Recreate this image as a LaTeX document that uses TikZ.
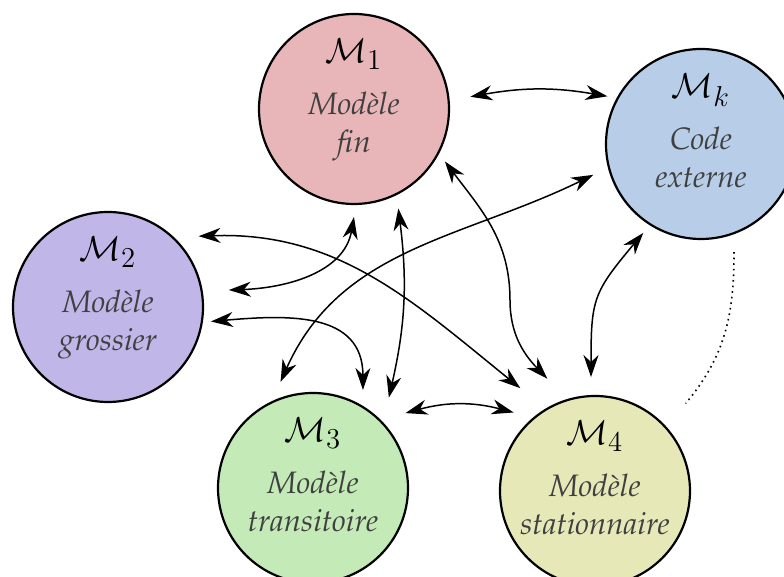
\documentclass[tikz,border=0pt]{standalone}
\usepackage[T1]{fontenc}
\renewcommand{\rmdefault}{ppl}
\usetikzlibrary{arrows.meta,calc}

\definecolor{rosefin}{HTML}{E8B5B8}
\definecolor{bleucode}{HTML}{B8CEE8}
\definecolor{mauve}{HTML}{C0B6E8}
\definecolor{vert}{HTML}{C4EAB7}
\definecolor{olive}{HTML}{E6E8B8}
\definecolor{gristexte}{HTML}{404040}

\begin{document}
\begin{tikzpicture}[x=0.5pt,y=0.5pt,
  >={Stealth[length=11pt,width=7.5pt,inset=3.5pt]},
  modele/.style={circle,draw=black,line width=1.1pt,minimum size=95pt,inner sep=0pt},
  titre/.style={anchor=base,font=\fontsize{19}{22}\selectfont},
  texte/.style={anchor=base,text=gristexte,font=\fontsize{15.5}{19}\selectfont\itshape},
  lien/.style={<->,line width=0.75pt}]
\useasboundingbox (0,0) rectangle (784,577);

% Models
\node[modele,fill=rosefin] (m1) at (354,468) {};
\node[modele,fill=bleucode] (mk) at (701,433) {};
\node[modele,fill=mauve] (m2) at (108,270) {};
\node[modele,fill=vert] (m3) at (313,89) {};
\node[modele,fill=olive] (m4) at (595,86) {};

% Names of the models
\node[titre] (m1t) at ($(m1)+(0,46)$) {$\mathcal{M}_1$};
\node[texte] (m1a) at ($(m1)+(0,-6)$) {Mod\`ele};
\node[texte] (m1b) at ($(m1)+(0,-44)$) {fin};

\node[titre] (mkt) at ($(mk)+(0,46)$) {$\mathcal{M}_k$};
\node[texte] (mka) at ($(mk)+(0,-6)$) {Code};
\node[texte] (mkb) at ($(mk)+(0,-44)$) {externe};

\node[titre] (m2t) at ($(m2)+(0,46)$) {$\mathcal{M}_2$};
\node[texte] (m2a) at ($(m2)+(0,-6)$) {Mod\`ele};
\node[texte] (m2b) at ($(m2)+(0,-44)$) {grossier};

\node[titre] (m3t) at ($(m3)+(0,46)$) {$\mathcal{M}_3$};
\node[texte] (m3a) at ($(m3)+(0,-6)$) {Mod\`ele};
\node[texte] (m3b) at ($(m3)+(0,-44)$) {transitoire};

\node[titre] (m4t) at ($(m4)+(0,46)$) {$\mathcal{M}_4$};
\node[texte] (m4a) at ($(m4)+(0,-6)$) {Mod\`ele};
\node[texte] (m4b) at ($(m4)+(0,-44)$) {stationnaire};

% Exchanges between the models
\draw[lien] ($(m1)+(6:117)$) to[bend left=10] ($(mk)+(153:105)$);
\draw[lien] ($(m2)+(8:122)$) to[out=2,in=-100] ($(m1)+(-90:108)$);
\draw[lien] ($(m2)+(38:115)$) to[out=2,in=141] ($(m4)+(126:127)$);
\draw[lien] ($(m2)+(-8:104)$) to[out=5,in=90,looseness=1.2] ($(m3)+(63:110)$);
\draw[lien] ($(m3)+(107:111)$) to[out=66,in=206] ($(mk)+(196:112)$);
\draw[lien] ($(m1)+(-66:109)$) to[bend left=10] ($(m3)+(50:118)$);
\coordinate (w) at (510,277);
\draw[lien] ($(m1)+(-30:105)$) to[out=-53,in=90] (w) to[out=-90,in=134] ($(m4)+(113:122)$);
\draw[lien] ($(mk)+(-123:106)$) to[out=-130,in=90,looseness=1.3] ($(m4)+(92:114)$);
\draw[lien] ($(m3)+(39:119)$) to[bend left=15] ($(m4)+(136:113)$);

% Link to the external code
\draw[dotted,line width=0.8pt] ($(mk)+(-73:113)$) to[out=-90,in=50] ($(m4)+(44:126)$);

\end{tikzpicture}
\end{document}
